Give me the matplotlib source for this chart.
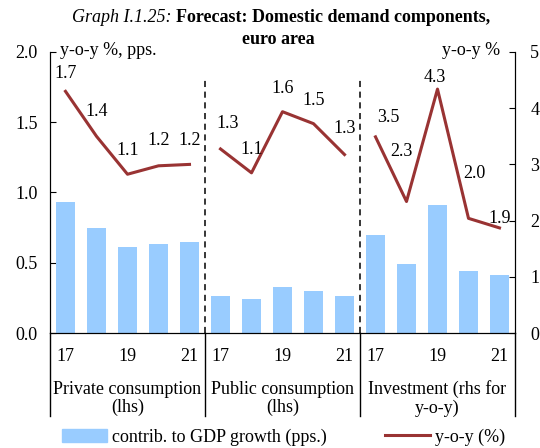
import matplotlib.pyplot as plt
from matplotlib.lines import Line2D
from matplotlib.patches import Patch
from matplotlib.transforms import blended_transform_factory

plt.rcParams.update({'font.family': 'Liberation Serif', 'font.size': 13})

# data
groups = ['Private consumption\n(lhs)', 'Public consumption\n(lhs)', 'Investment (rhs for\ny-o-y)']
years = ['17', '18', '19', '20', '21']
contrib_private = [0.93, 0.75, 0.61, 0.63, 0.645]
contrib_public = [0.265, 0.24, 0.325, 0.30, 0.265]
contrib_invest = [0.70, 0.49, 0.91, 0.44, 0.41]
yoy_private = [1.72, 1.40, 1.13, 1.19, 1.20]
yoy_public = [1.31, 1.14, 1.575, 1.49, 1.27]
yoy_invest = [3.49, 2.34, 4.34, 2.04, 1.87]

# label offsets (points) for the y-o-y numbers
off_private = [(0, 13), (0, 18), (0, 17), (0, 18), (0, 17)]
off_public = [(5, 18), (0, 17), (0, 17), (0, 17), (0, 19)]
off_invest = [(9, 14), (-4, 36), (-2, 8), (4, 32), (0, 7)]

bar_col = '#99CCFF'
line_col = '#993333'

fig = plt.figure(figsize=(5.4, 4.48), dpi=100)
ax = fig.add_axes([50 / 540, 1 - 333 / 448, 465 / 540, 281 / 448])
ax2 = ax.twinx()

contribs = [contrib_private, contrib_public, contrib_invest]
yoys = [yoy_private, yoy_public, yoy_invest]
offs = [off_private, off_public, off_invest]

for g in range(3):
    xs = [g * 5 + i for i in range(5)]
    ax.bar(xs, contribs[g], width=0.6, color=bar_col, zorder=2)
    tgt = ax2 if g == 2 else ax
    tgt.plot(xs, yoys[g], color=line_col, lw=2.2, zorder=3)
    for x, v, o in zip(xs, yoys[g], offs[g]):
        tgt.annotate(f'{v:.1f}', (x, v), xytext=o, textcoords='offset points',
                     ha='center', va='center')

ax.set_xlim(-0.5, 14.5)
ax.set_ylim(0, 2.0)
ax2.set_ylim(0, 5)
ax.set_xticks([])
ax.set_yticks([0, 0.5, 1.0, 1.5, 2.0])
ax.set_yticklabels(['0.0', '0.5', '1.0', '1.5', '2.0'])
ax2.set_yticks([0, 1, 2, 3, 4, 5])
ax.tick_params(axis='y', direction='in', length=4, pad=9)
ax2.tick_params(axis='y', direction='in', length=4, pad=11)
for a in (ax, ax2):
    a.spines['top'].set_visible(False)
    a.patch.set_visible(False)

trans = blended_transform_factory(ax.transData, ax.transAxes)

# dashed separators inside, solid below the axis
for x in [4.5, 9.5]:
    ax.plot([x, x], [0, 1.8], color='black', lw=1.1, ls=(0, (4, 3)), zorder=1)
for x in [-0.5, 4.5, 9.5, 14.5]:
    ax.plot([x, x], [0, -0.295], transform=trans, color='black', lw=1, clip_on=False)

for g in range(3):
    for i in [0, 2, 4]:
        ax.text(g * 5 + i, -0.082, years[i], transform=trans, ha='center', va='center')
    ax.text(g * 5 + 2, -0.233, groups[g], transform=trans, ha='center', va='center',
            multialignment='center', linespacing=1.1)

ax.text(0.022, 1.004, 'y-o-y %, pps.', transform=ax.transAxes, ha='left', va='center')
ax.text(0.968, 1.004, 'y-o-y %', transform=ax.transAxes, ha='right', va='center')

# title
t1 = fig.text(72 / 540, 1 - 18 / 448, 'Graph I.1.25: ', style='italic', va='center')
fig.canvas.draw()
ax.annotate('Forecast: Domestic demand components,', xy=(1, 0.5), xycoords=t1,
            ha='left', va='center', weight='bold')
fig.text(278 / 540, 1 - 40 / 448, 'euro area', weight='bold', ha='center', va='center')

handles = [Patch(color=bar_col), Line2D([], [], color=line_col, lw=2.2)]
fig.legend(handles, ['contrib. to GDP growth (pps.)', 'y-o-y (%)'], loc='center',
           bbox_to_anchor=(0.525, 1 - 437 / 448), ncol=2, frameon=False,
           handlelength=2.5, columnspacing=3.2, handletextpad=0.3)

fig.savefig('out.png', dpi=100)
